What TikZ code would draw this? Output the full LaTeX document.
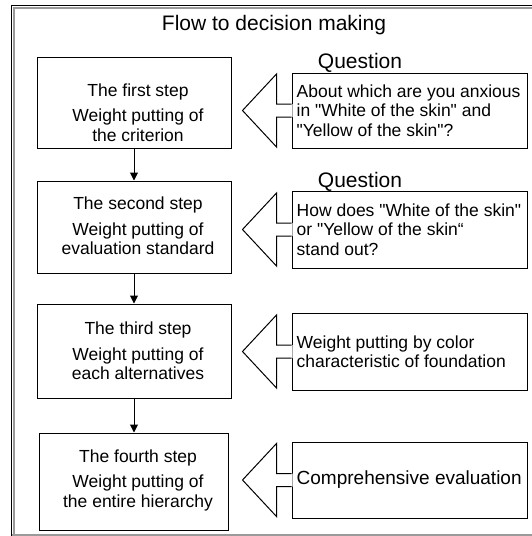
\documentclass[tikz,border=0pt]{standalone}
\usepackage{fontspec}
\setmainfont{Liberation Sans}[Ligatures=TeXOff]
\usetikzlibrary{arrows.meta}
\definecolor{FrameGray}{HTML}{9A9A9A}

\tikzset{
  stepbox/.style={draw, line width=1pt, inner sep=0pt},
  steptext/.style={align=center, inner sep=0pt, font=\fontsize{17.5}{19.5}\selectfont},
  askbox/.style={draw, line width=1pt, minimum width=235pt, inner sep=0pt},
  asktext/.style={align=left, anchor=west, inner sep=0pt, font=\fontsize{17.5}{19.5}\selectfont},
  heading/.style={font=\fontsize{21}{25}\selectfont, inner sep=0pt, anchor=base},
}

\begin{document}
\begin{tikzpicture}[x=1pt, y=-1pt]
  \useasboundingbox (0,0) rectangle (532,536);

  % frame
  \draw[FrameGray, line width=2pt] (13.5,536) -- (13.5,7.5) -- (532,7.5);
  \draw[FrameGray, line width=1.5pt] (11,535) -- (532,535);
  \draw[black, line width=1pt] (11.5,536) -- (11.5,5.3) -- (532,5.3);

  \node[heading] (title) at (274,30) {Flow to decision making};

  % the four steps
  \foreach \i/\x/\yc/\w/\h/\dy/\first/\second/\third in {
    1/134/102.5/194/91/-10/{The first step}/{Weight putting of}/{the criterion},
    2/134/227/194/92/1/{The second step}/{Weight putting of}/{evaluation standard},
    3/134/351/194/94/0/{The third step}/{Weight putting of}/{each alternatives},
    4/134/481.5/189/97/1.5/{The fourth step}/{Weight putting of}/{the entire hierarchy}
  }{
    \node[stepbox, minimum width=\w pt, minimum height=\h pt] (step\i) at (\x,\yc) {};
    \node[steptext, xshift=4pt, yshift=\dy pt] (steplabel\i) at (step\i) {\first\\[6pt]\second\\\third};
  }
  \foreach \a/\b in {1/2,2/3,3/4}
    \draw[-{Triangle[length=8pt,width=8pt]}, line width=1pt] (step\a.south) -- (step\b.north);

  % questions and block arrows
  \foreach \i/\yc/\h/\body in {
    1/110.5/75/{About which are you anxious\\in "White of the skin" and\\"Yellow of the skin"?},
    2/229.5/77/{How does "White of the skin"\\or "Yellow of the skin“\\stand out?},
    3/351.5/77/{Weight putting by color\\characteristic of foundation},
    4/480/76/{\fontsize{19}{22}\selectfont Comprehensive evaluation}
  }{
    \node[askbox, minimum height=\h pt] (ask\i) at (409.5,\yc) {};
    \node[asktext, xshift=5pt] (asklabel\i) at (ask\i.west) {\body};
    \fill[white] ([yshift=6.5pt]ask\i.west) -- ++(-15,0) -- ++(0,-30) -- ++(-34,36.5)
      -- ++(34,36.5) -- ++(0,-30) -- ++(16,0) -- ++(0,-13) -- cycle;
    \draw[line width=1pt, line join=miter] ([yshift=6.5pt]ask\i.west) -- ++(-15,0) -- ++(0,-30)
      -- ++(-34,36.5) -- ++(34,36.5) -- ++(0,-30) -- ++(15,0);
  }
  \node[heading] (askhead1) at (360,68) {Question};
  \node[heading] (askhead2) at (360,187) {Question};
\end{tikzpicture}
\end{document}
